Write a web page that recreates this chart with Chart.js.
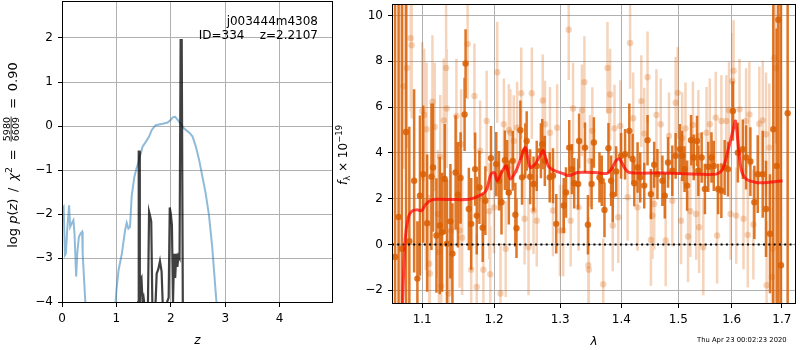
<!DOCTYPE html>
<html>
<head>
<meta charset="utf-8">
<script src="https://cdn.jsdelivr.net/npm/chart.js@4.4.0/dist/chart.umd.min.js"></script>
<style>
  body { margin: 0; background: #fff; }
  #wrap { position: relative; width: 800px; height: 350px; }
  canvas { position: absolute; top: 0; }
  #pz { left: 0; }
  #sp { left: 335px; }
</style>
</head>
<body>
<div id="wrap">
  <canvas id="pz" width="340" height="350"></canvas>
  <canvas id="sp" width="465" height="350"></canvas>
</div>
<script>
// p(z) panel
const pzTicksX = [0, 1, 2, 3, 4];
const pzTicksY = [-4, -3, -2, -1, 0, 1, 2];

// chi2-based curve (blue)
const chiZ = [0.00, 0.03, 0.055, 0.07, 0.10, 0.13, 0.15, 0.18, 0.21, 0.23, 0.26, 0.28, 0.31, 0.34, 0.37, 0.38, 0.43, 0.47,
  0.95, 0.985, 1.00, 1.04, 1.10, 1.16, 1.19, 1.22, 1.25, 1.28, 1.33, 1.37, 1.41, 1.42, 1.45, 1.48, 1.54, 1.60, 1.65, 1.72,
  1.85, 1.94, 2.00, 2.04, 2.08, 2.12, 2.18, 2.24, 2.34, 2.40, 2.46, 2.52, 2.58, 2.64, 2.70, 2.76, 2.84, 2.88];
const chiY = [-1.87, -1.83, -2.93, -2.90, -2.29, -1.80, -2.29, -2.21, -2.14, -2.44, -3.42, -2.90, -2.52, -2.44, -2.40, -2.90, -4.03, -6,
  -6, -4.0, -3.73, -3.27, -2.90, -2.36, -2.20, -2.33, -2.29, -1.60, -1.15, -0.96, -0.81, -0.70, -0.62, -0.47, -0.36, -0.24, -0.09, 0.02,
  0.05, 0.08, 0.14, 0.20, 0.21, 0.15, 0.05, -0.05, -0.15, -0.24, -0.47, -0.77, -1.15, -1.53, -2.02, -2.74, -4.03, -6];

// log p(z) (dark)
const pzZ = [1.38, 1.40, 1.41, 1.425, 1.43, 1.44, 1.46, 1.48, 1.50, 1.52, 1.56, 1.58, 1.60, 1.62, 1.64, 1.66, 1.70,
  1.72, 1.74, 1.77, 1.80, 1.83, 1.85, 1.89, 1.93, 1.96, 1.98, 2.00, 2.02, 2.04, 2.06, 2.08, 2.10, 2.12, 2.14, 2.16,
  2.18, 2.20, 2.22, 2.25];
const pzY = [-6, -4.0, -0.58, -0.58, -4.0, -3.5, -3.45, -4.0, -3.9, -4.1, -6, -4.0, -1.95, -2.05, -2.17, -4.0, -6,
  -4.0, -3.35, -3.25, -3.07, -3.3, -4.0, -6, -4.0, -3.9, -1.85, -2.0, -2.25, -4.0, -2.9, -3.45, -2.9, -3.2, -2.95, -3.0,
  1.95, 1.95, -4.0, -6];

// spectrum panel
const specTicksX = [1.1, 1.2, 1.3, 1.4, 1.5, 1.6, 1.7];
const specTicksY = [-2, 0, 2, 4, 6, 8, 10];
const waveLimits = [1.0605, 1.7295];

const darkWave = [1.0645, 1.0690, 1.0732, 1.0787, 1.0830, 1.0893, 1.0936, 1.0970, 1.1013, 1.1066, 1.1124, 1.1145, 1.1191, 1.1236, 1.1267, 1.1304, 1.1335, 1.1382, 1.1410, 1.1454, 1.1486, 1.1523, 1.1579, 1.1593, 1.1639, 1.1672, 1.1728, 1.1751, 1.1789, 1.1836, 1.1874, 1.1955,
  1.2032, 1.2071, 1.2108, 1.2158, 1.2191, 1.2216, 1.2274, 1.2313, 1.2330, 1.2388, 1.2413, 1.2462, 1.2483, 1.2536, 1.2587, 1.2636, 1.2700, 1.2721, 1.2760, 1.2836, 1.2887, 1.2938, 1.3056, 1.3092, 1.3143, 1.3186, 1.3222, 1.3285, 1.3301, 1.3396, 1.3444, 1.3504, 1.3541,
  1.3633, 1.3671, 1.3716, 1.3782, 1.3827, 1.3854, 1.3911, 1.3995, 1.4062, 1.4135, 1.4191, 1.4220, 1.4277, 1.4323, 1.4392, 1.4450, 1.4509, 1.4567, 1.4624, 1.4712, 1.4755, 1.4813, 1.4890, 1.4950, 1.5027, 1.5069, 1.5112, 1.5159, 1.5232, 1.5281, 1.5342,
  1.5367, 1.5428, 1.5489, 1.5552, 1.5613, 1.5656, 1.5739, 1.5801, 1.5864, 1.5928, 1.6023, 1.6119, 1.6217, 1.6281, 1.6366, 1.6445, 1.6512, 1.6612, 1.6678, 1.6759, 1.6826, 1.6895, 1.6928, 1.6983, 1.7121];
const darkFlux = [-0.55, 1.2, -0.19, 4.91, 0.14, 2.78, -1.49, 2.13, 3.07, 0.93, 2.96, 3.36, 0.39, 0.83, 0.53, 2.86, 0.03, 1.01, -0.40, 3.14, 2.17, 2.90, 5.68, 7.90, 1.55, 0.90, 3.29, 1.26, 2.49, 0.73, 1.91, 3.77,
  3.51, 2.78, 1.84, 3.68, 3.36, 2.27, 3.65, 1.30, 0.71, 4.99, 2.93, 4.09, 4.52, 2.96, 2.64, 3.43, 4.09, 4.38, 3.65, 2.93, 3.00, 0.90, 1.70, 2.27, 4.23, 3.29, 2.67, 2.64, 4.52, 4.23, 0.86, 2.64, 4.45,
  2.93, 2.78, 1.51, 4.20, 2.78, 2.17, 3.19, 3.87, 3.94, 4.96, 3.73, 2.67, 3.36, 2.93, 2.57, 4.55, 2.20, 3.48, 3.07, 2.78, 2.13, 3.58, 3.22, 3.87, 4.16, 3.87, 3.29, 2.57, 4.55, 3.80, 4.52,
  3.22, 3.80, 2.42, 3.39, 3.80, 3.43, 2.42, 2.35, 3.36, 3.29, 5.83, 4.01, 4.16, 3.80, 3.62, 1.84, 3.07, 3.07, 1.55, 0.47, 5.03, 3.43, 9.81, -0.91, 5.73];
const darkErr = [20, 20, 20, 20, 5, 4, 2.5, 3.5, 3, 3, 3.2, 2.8, 2.5, 3, 2.6, 2.4, 2.8, 2.5, 2.2, 2.5, 2.3, 2, 1.6, 1.5, 1.8, 2, 1.6, 1.7, 1.6, 1.5, 1.5, 1.4,
  1.4, 1.3, 1.4, 1.3, 1.2, 1.4, 1.3, 1.4, 1.3, 1.3, 1.2, 1.2, 1.3, 1.2, 1.2, 1.1, 1.2, 1.1, 1.1, 1.1, 1.2, 1.3, 1.2, 1.1, 1.2, 1.1, 1.1, 1.1, 1.2, 1.1, 1.3, 1.1, 1.1,
  1.1, 1.1, 1.2, 1.1, 1.1, 1.2, 1.1, 1.0, 1.1, 1.2, 1.1, 1.0, 1.1, 1.1, 1.0, 1.1, 1.1, 1.0, 1.1, 1.1, 1.0, 1.1, 1.1, 1.0, 1.1, 1.1, 1.0, 1.1, 1.1, 1.0, 1.1,
  1.1, 1.1, 1.1, 1.1, 1.1, 1.1, 1.1, 1.2, 1.2, 1.2, 1.3, 1.3, 1.3, 1.4, 1.5, 1.6, 1.7, 1.9, 2.1, 2.6, 8, 6, 20, 20, 20];

const lightWave = [1.0753, 1.0797, 1.0848, 1.0861, 1.1000, 1.1026, 1.1049, 1.1058, 1.1093, 1.1102, 1.1137, 1.1168, 1.1211, 1.1225, 1.1243, 1.1256, 1.1291, 1.1323, 1.1331, 1.1358, 1.1390, 1.1465, 1.1509, 1.1531, 1.1545, 1.1622, 1.1672, 1.1718, 1.1751, 1.1799, 1.1846, 1.1893, 1.1931, 1.1945,
  1.1999, 1.2046, 1.2094, 1.2143, 1.2170, 1.2216, 1.2239, 1.2289, 1.2339, 1.2401, 1.2451, 1.2511, 1.2561, 1.2587, 1.2636, 1.2728, 1.2763, 1.2840, 1.2887, 1.2952, 1.2996, 1.3048, 1.3135, 1.3166, 1.3204, 1.3293, 1.3346, 1.3387, 1.3451, 1.3458, 1.3477, 1.3516,
  1.3695, 1.3766, 1.3794, 1.3810, 1.3854, 1.3883, 1.3947, 1.3980, 1.4106, 1.4148, 1.4201, 1.4275, 1.4341, 1.4392, 1.4450, 1.4509, 1.4537, 1.4567, 1.4606, 1.4683, 1.4771, 1.4830, 1.4890, 1.4950, 1.4988, 1.5048, 1.5069, 1.5129, 1.5176, 1.5218, 1.5266, 1.5327,
  1.5367, 1.5381, 1.5459, 1.5520, 1.5581, 1.5693, 1.5720, 1.5801, 1.5896, 1.5948, 1.5978, 1.6011, 1.6036, 1.6088, 1.6152, 1.6230, 1.6281, 1.6314, 1.6346, 1.6425, 1.6544, 1.6612, 1.6678, 1.6690, 1.6745, 1.6799, 1.6813, 1.6846, 1.6880];
const lightFlux = [6.91, 7.71, 9.01, 8.70, 5.83, 5.65, 1.87, 5.03, -0.84, -1.27, 6.23, 5.13, 1.33, -0.33, 3.83, -1.83, 5.42, 7.71, 5.94, -2.14, 0.61, 5.61, 0.61, 4.38, 0.29, 8.75, -1.10, 6.48, -1.86, 4.09, -1.10, 5.39, 1.45, -1.30,
  1.62, 7.52, -2.14, 5.25, -0.19, 5.00, 4.88, 4.52, 5.10, 6.60, 1.12, -0.12, 6.60, 1.48, 1.04, 6.29, 5.25, 4.88, 1.48, 5.10, 0.61, 0.61, 9.38, 1.04, 5.94, 1.62, 5.86, 7.09, -0.91, -1.10, 3.65, 4.96,
  -1.74, 7.71, 5.86, 6.55, 0.83, 5.07, 1.19, 5.17, 2.06, 8.80, 5.51, 1.62, 6.26, 4.84, 7.30, 0.20, 1.26, 1.77, 5.65, 5.25, 0.17, 4.74, 1.91, 6.19, 6.62, 1.04, 4.65, 5.07, 0.35, 1.45, 5.22, 1.33,
  4.74, 0.75, -0.12, 4.88, 5.25, 5.54, 0.39, 5.39, 5.39, 5.86, 1.33, 7.13, 7.59, 1.26, 5.90, 1.12, 5.39, 0.42, 5.68, 0.87, 5.27, 5.42, 4.81, -1.78, 4.23, -1.42, -0.19, 8.14, 7.71];
const lightErr = [3.6, 3.5, 3.2, 3.2, 3.0, 2.9, 3.0, 2.9, 3.0, 3.1, 2.9, 2.8, 2.8, 2.9, 2.7, 2.8, 2.7, 2.8, 2.6, 2.8, 2.6, 2.5, 2.5, 2.4, 2.5, 2.4, 2.4, 2.3, 2.3, 2.2, 2.2, 2.2, 2.1, 2.1,
  2.0, 2.2, 2.2, 2.0, 2.1, 2.0, 1.9, 2.0, 2.0, 2.0, 2.0, 2.1, 2.0, 1.9, 2.0, 2.0, 1.9, 2.0, 2.0, 1.9, 2.0, 2.0, 2.2, 2.0, 2.0, 1.9, 2.0, 2.0, 2.1, 2.0, 2.0, 1.9,
  2.0, 2.0, 1.9, 2.0, 2.0, 1.9, 2.0, 2.0, 1.9, 2.0, 2.0, 1.9, 2.0, 2.0, 2.0, 2.0, 1.9, 2.0, 2.0, 2.0, 2.0, 1.9, 2.0, 2.0, 2.0, 1.9, 2.0, 2.0, 2.0, 2.0, 1.9, 2.0,
  2.0, 2.0, 2.1, 2.0, 2.0, 2.0, 2.1, 2.0, 2.0, 2.1, 2.0, 2.1, 2.2, 2.1, 2.2, 2.2, 2.3, 2.3, 2.3, 2.4, 2.5, 2.6, 2.7, 2.8, 2.8, 3.0, 3.0, 3.2, 3.3];

const modelWave = [1.0727, 1.0774, 1.0817, 1.0861, 1.0926, 1.0992, 1.1036, 1.1102, 1.1191, 1.1463, 1.1648, 1.1789, 1.1884, 1.1955, 1.2003, 1.2046, 1.2108, 1.2177, 1.2239, 1.2324,
  1.2401, 1.2462, 1.2536, 1.2611, 1.2685, 1.2737, 1.2813, 1.2914, 1.3040, 1.3143, 1.3275, 1.3565, 1.3750, 1.3830, 1.3914, 1.3970, 1.4050, 1.4133, 1.4683, 1.5357,
  1.5700, 1.5826, 1.5925, 1.6023, 1.6073, 1.6119, 1.6184, 1.6281, 1.6479, 1.6712, 1.7016];
const modelFlux = [-4, 0.17, 1.19, 1.45, 1.51, 1.48, 1.70, 1.91, 1.97, 1.96, 1.97, 2.13, 2.35, 3.07, 3.14, 2.78, 3.14, 3.43, 2.86, 3.22,
  3.80, 4.23, 3.36, 3.51, 3.87, 4.09, 3.43, 3.22, 3.10, 3.00, 3.14, 3.14, 3.10, 3.29, 3.68, 3.73, 3.36, 3.14, 3.12, 3.07,
  3.07, 3.29, 4.09, 4.96, 5.39, 4.52, 3.29, 2.86, 2.71, 2.71, 2.78];

const FONT = "'DejaVu Sans'";

function minus(v) {
  return v < 0 ? '\u2212' + Math.abs(v) : String(v);
}

function xy(xs, ys) {
  return xs.map((x, i) => ({ x: x, y: ys[i] }));
}

// each error bar is a two point segment, broken by a null
function errSegments(xs, ys, es) {
  const pts = [];
  xs.forEach((x, i) => {
    pts.push({ x: x, y: ys[i] - es[i] }, { x: x, y: ys[i] + es[i] }, { x: x, y: null });
  });
  return pts;
}

function fixAxis(size, vertical) {
  return function (s) {
    if (vertical) s.width = size; else s.height = size;
    s.paddingTop = 0; s.paddingBottom = 0; s.paddingLeft = 0; s.paddingRight = 0;
  };
}

// rotated label built from pieces (for the mathtext-like labels)
function drawRotated(ctx, x, yc, pieces, fracY) {
  ctx.save();
  ctx.translate(x, yc);
  ctx.rotate(-Math.PI / 2);
  ctx.fillStyle = '#000';
  ctx.textBaseline = 'alphabetic';
  let total = 0;
  const widths = pieces.map(p => {
    ctx.font = p.font;
    let w;
    if (p.frac) w = Math.max(ctx.measureText(p.frac[0]).width, ctx.measureText(p.frac[1]).width) + 3;
    else w = ctx.measureText(p.text).width;
    total += w;
    return w;
  });
  let cur = -total / 2;
  pieces.forEach((p, i) => {
    ctx.font = p.font;
    if (p.frac) {
      ctx.textAlign = 'center';
      ctx.fillText(p.frac[0], cur + widths[i] / 2, fracY[0]);
      ctx.fillText(p.frac[1], cur + widths[i] / 2, fracY[1]);
      ctx.fillRect(cur + 1, fracY[2], widths[i] - 2, 0.8);
      ctx.textAlign = 'left';
    } else {
      ctx.textAlign = 'left';
      ctx.fillText(p.text, cur, p.dy || 0);
    }
    cur += widths[i];
  });
  ctx.restore();
}

function frame(ctx, a) {
  ctx.save();
  ctx.strokeStyle = '#000';
  ctx.lineWidth = 1;
  ctx.strokeRect(Math.round(a.left) + 0.5, Math.round(a.top) + 0.5,
    Math.round(a.right) - Math.round(a.left) - 1, Math.round(a.bottom) - Math.round(a.top) - 1);
  ctx.restore();
}

const rm = '12px ' + FONT;
const it = 'italic 12px ' + FONT;
const sm = '8.5px ' + FONT;
const rmL = '13px ' + FONT;
const itL = 'italic 13px ' + FONT;
const smL = '9.5px ' + FONT;
const TS = '\u2009';

const pzDecor = {
  id: 'pzDecor',
  afterDraw(chart) {
    const ctx = chart.ctx;
    const a = chart.chartArea;
    frame(ctx, a);
    ctx.save();
    ctx.fillStyle = '#000';
    ctx.font = rm;
    ctx.textAlign = 'right';
    ctx.textBaseline = 'alphabetic';
    ctx.fillText('j003444m4308', 318, 25);
    ctx.fillText('ID=334    z=2.2107', 318, 39);
    ctx.font = it;
    ctx.textAlign = 'center';
    ctx.fillText('z', (a.left + a.right) / 2, 344);
    ctx.restore();
    drawRotated(ctx, 17, 155, [
      { font: rmL, text: 'log ' }, { font: itL, text: 'p' }, { font: rmL, text: '(' }, { font: itL, text: 'z' },
      { font: rmL, text: ') ' + TS + '/' + TS + ' ' }, { font: itL, text: '\u03c7' }, { font: smL, text: '2', dy: -5.5 },
      { font: rmL, text: ' ' + TS + '=' + TS + ' ' }, { font: smL, frac: ['5980', '6609'] }, { font: rmL, text: ' ' + TS + '=' + TS + ' 0.90' }
    ], [-7.5, 2, -6.3]);
  }
};

const specDecor = {
  id: 'specDecor',
  afterDraw(chart) {
    const ctx = chart.ctx;
    const a = chart.chartArea;
    frame(ctx, a);
    ctx.save();
    ctx.fillStyle = '#000';
    ctx.font = it;
    ctx.textAlign = 'center';
    ctx.fillText('\u03bb', (a.left + a.right) / 2, 345);
    ctx.font = '6.8px ' + FONT;
    ctx.textAlign = 'left';
    ctx.fillText('Thu Apr 23 00:02:23 2020', 697 - 335, 341.5);
    ctx.restore();
    drawRotated(ctx, 12, 155, [
      { font: it, text: 'f' }, { font: sm, text: '\u03bb', dy: 2.5 },
      { font: rm, text: ' \u00d7 10' }, { font: sm, text: '\u221219', dy: -5 }
    ], [0, 0, 0]);
  }
};

function axisStyle(extra) {
  return Object.assign({
    grid: { color: '#b0b0b0', lineWidth: 1, tickColor: '#000', tickLength: 4, tickWidth: 1 },
    border: { display: false },
    ticks: { color: '#000', font: { family: 'DejaVu Sans', size: 12 }, padding: 5, maxRotation: 0, autoSkip: false }
  }, extra);
}

const pzX = axisStyle({
  type: 'linear', min: 0, max: 4.98,
  afterBuildTicks: s => { s.ticks = pzTicksX.map(v => ({ value: v })); },
  afterFit: fixAxis(47, false)
});
const pzYAxis = axisStyle({
  type: 'linear', min: -4.02, max: 2.84,
  afterBuildTicks: s => { s.ticks = pzTicksY.map(v => ({ value: v })); },
  afterFit: fixAxis(62, true)
});
pzYAxis.ticks = Object.assign({}, pzYAxis.ticks, { callback: v => minus(v) });

new Chart(document.getElementById('pz'), {
  type: 'line',
  data: {
    datasets: [
      { data: xy(pzZ, pzY), borderColor: 'rgba(0,0,0,0.75)', borderWidth: 2.2, pointRadius: 0, tension: 0, clip: 0 },
      { data: xy(chiZ, chiY), borderColor: 'rgba(31,119,180,0.5)', borderWidth: 2, pointRadius: 0, tension: 0, clip: 0 }
    ]
  },
  options: {
    responsive: false,
    animation: false,
    events: [],
    layout: { padding: { left: 0, top: 1, right: 7, bottom: 0 } },
    plugins: { legend: { display: false }, tooltip: { enabled: false } },
    scales: { x: pzX, y: pzYAxis }
  },
  plugins: [pzDecor]
});

const yAxis = axisStyle({
  type: 'linear', min: -2.6, max: 10.5,
  afterBuildTicks: s => { s.ticks = specTicksY.map(v => ({ value: v })); },
  afterFit: fixAxis(57, true)
});
yAxis.ticks = Object.assign({}, yAxis.ticks, { callback: v => minus(v) });

const xAxis = axisStyle({
  type: 'logarithmic', min: waveLimits[0], max: waveLimits[1],
  afterBuildTicks: s => { s.ticks = specTicksX.map(v => ({ value: v })); },
  afterFit: fixAxis(46, false)
});
xAxis.ticks = Object.assign({}, xAxis.ticks, { callback: v => Number(v).toFixed(1) });

new Chart(document.getElementById('sp'), {
  type: 'line',
  data: {
    datasets: [
      { data: xy(modelWave, modelFlux), borderColor: 'rgba(255,0,0,0.7)', borderWidth: 3, pointRadius: 0, tension: 0.3, clip: 0, order: 0 },
      { data: [{ x: waveLimits[0], y: 0 }, { x: waveLimits[1], y: 0 }], borderColor: '#000', borderWidth: 2, borderDash: [2, 3.3], pointRadius: 0, clip: 0, order: 1 },
      { data: xy(darkWave, darkFlux), showLine: false, pointRadius: 3.2, pointBorderWidth: 0, pointBackgroundColor: 'rgba(217,95,2,0.85)', clip: 0, order: 2 },
      { data: errSegments(darkWave, darkFlux, darkErr), borderColor: 'rgba(217,95,2,0.85)', borderWidth: 2.5, pointRadius: 0, spanGaps: false, clip: 0, order: 3 },
      { data: xy(lightWave, lightFlux), showLine: false, pointRadius: 3.2, pointBorderWidth: 0, pointBackgroundColor: 'rgba(217,95,2,0.27)', clip: 0, order: 4 },
      { data: errSegments(lightWave, lightFlux, lightErr), borderColor: 'rgba(217,95,2,0.27)', borderWidth: 2.5, pointRadius: 0, spanGaps: false, clip: 0, order: 5 }
    ]
  },
  options: {
    responsive: false,
    animation: false,
    events: [],
    layout: { padding: { left: 0, top: 1, right: 1, bottom: 0 } },
    plugins: { legend: { display: false }, tooltip: { enabled: false } },
    scales: { x: xAxis, y: yAxis }
  },
  plugins: [specDecor]
});
</script>
</body>
</html>
